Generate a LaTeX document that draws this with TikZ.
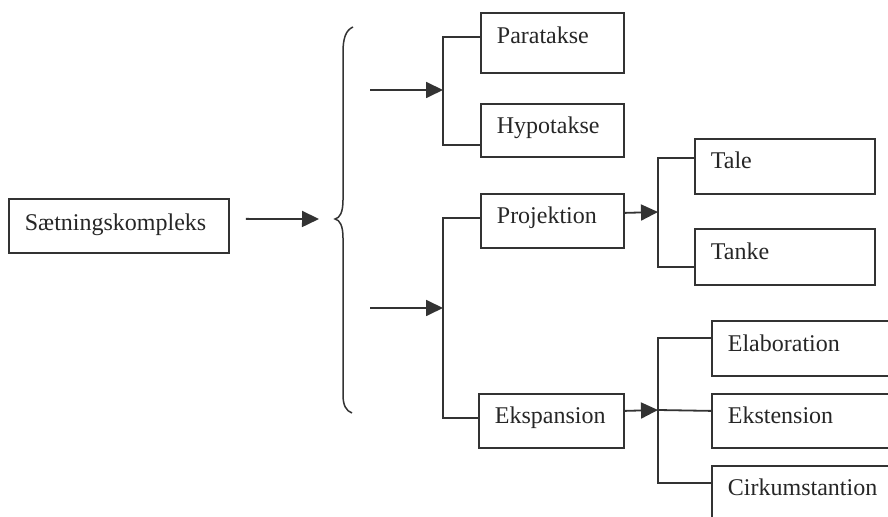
\documentclass[tikz,border=0pt]{standalone}
\usepackage{fontspec}
\setmainfont{Liberation Serif}
\usepackage{tikz}
\usetikzlibrary{arrows.meta}
\usetikzlibrary{calc}

\begin{document}
\begin{tikzpicture}[x=0.5pt,y=-0.5pt,line width=0.9pt,draw=black!80,text=black!85,font=\fontsize{12pt}{14pt}\selectfont]
\tikzstyle{box}=[draw,anchor=north west,inner xsep=8pt,inner ysep=0pt,align=left,text height=15pt,text depth=12pt]
\tikzstyle{arr}=[-{Triangle[length=8.5pt,width=8pt]}]
\clip (0,0) rectangle (888,517);
\node[box,text width=94pt,text height=16pt,text depth=11pt] (sk) at (8,198) {Sætningskompleks};
\node[box,text width=55.5pt,text height=15.5pt,text depth=14.5pt] (para) at (480,12) {Paratakse};
\node[box,text width=55.5pt,text depth=11.5pt] (hypo) at (480,103) {Hypotakse};
\node[box,text width=55.5pt] (proj) at (480,193) {Projektion};
\node[box,text width=56.5pt] (eksp) at (478,393) {Ekspansion};
\node[box,text width=74pt,text depth=12.5pt] (tale) at (694,138) {Tale};
\node[box,text width=74pt,text depth=12.5pt,text height=15.5pt] (tanke) at (694,228) {Tanke};
\node[box,text width=84pt,text height=15.5pt] (elab) at (711,320) {Elaboration};
\node[box,text width=84pt] (ekst) at (711,393) {Ekstension};
\node[box,text width=84pt,text depth=20pt] (cirk) at (711,465) {Cirkumstantion};
% the brace
\coordinate (tip) at (335,219);
\draw[line width=0.75pt] (353,27) .. controls (346,30) and (343,38) .. (343,52) -- (343,200)
  .. controls (343,212) and (340,218) .. (tip) .. controls (340,220) and (343,226) .. (343,238)
  -- (343,395) .. controls (343,405) and (346,411) .. (352,413);
\draw[arr] ([xshift=8pt,yshift=3.5pt]sk.east) -- ([xshift=-8pt]tip);
% junctions
\coordinate (a1) at (370,90);
\coordinate (b1) at (443,90);
\coordinate (a2) at (370,308);
\coordinate (b2) at (443,308);
\coordinate (b3) at (658,212);
\coordinate (b4) at (658,410);
\draw[arr] (a1) -- (b1);
\draw[arr] (a2) -- (b2);
\draw ([yshift=3pt]para.west) -| (b1) |- ([yshift=-7.25pt]hypo.west);
\draw ([yshift=1.5pt]proj.west) -| (b2) |- ([yshift=1.5pt]eksp.west);
\draw[arr] ([yshift=4pt]proj.east) -- (b3);
\draw ([yshift=4.25pt]tale.west) -| (b3) |- ([yshift=-5.25pt]tanke.west);
\draw[arr] ([yshift=5pt]eksp.east) -- (b4);
\draw ([yshift=5pt]elab.west) -| (b4) |- ([yshift=-9pt]cirk.north west);
\draw (b4) -- ([yshift=5pt]ekst.west);
\end{tikzpicture}
\end{document}
